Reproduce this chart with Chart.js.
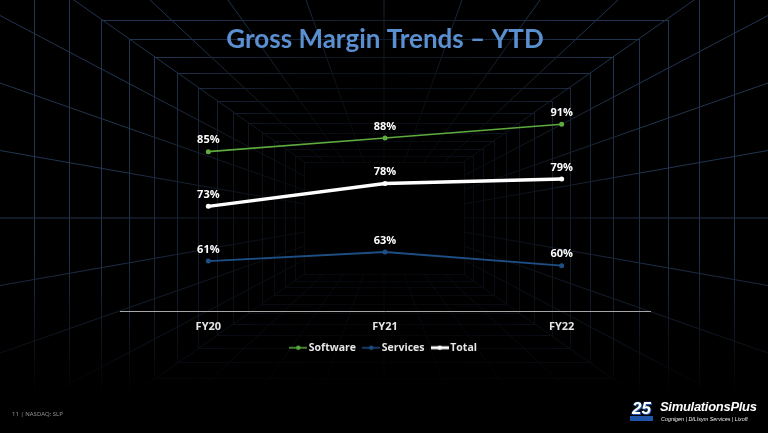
<!DOCTYPE html>
<html>
<head>
<meta charset="utf-8">
<script src="https://cdn.jsdelivr.net/npm/chart.js@4.4.1/dist/chart.umd.min.js"></script>
<style>
  html, body { margin:0; padding:0; background:#000; }
  #wrap { position:relative; width:768px; height:433px; overflow:hidden; background:#000; }
  #c { position:absolute; left:0; top:0; }
  .foot { position:absolute; left:12px; top:410px; font:6px "Open Sans", sans-serif; color:#9a9a9a; }
  .logo { position:absolute; left:628px; top:396px; width:135px; height:32px; }
  .badge { position:absolute; left:0; top:2px; width:27px; height:26px; font:italic 900 17px "Liberation Sans", sans-serif; color:#fff; text-align:center; line-height:22px; text-shadow:0 0 2px #2a5fb0, 1px 1px 0 #1d4fa0; }
  .badge span { position:absolute; left:2px; top:18px; width:23px; height:5px; background:#1e55a8; }
  .brand { position:absolute; left:32px; top:3px; font:italic bold 13px "Liberation Sans", Arial, sans-serif; color:#fff; letter-spacing:-0.3px; }
  .sub { position:absolute; left:33px; top:20px; font:italic 5.4px "Liberation Sans", Arial, sans-serif; color:#e8e8e8; white-space:nowrap; }
</style>
</head>
<body>
<div id="wrap">
  <canvas id="c" width="768" height="433"></canvas>
  <div class="foot">11 | NASDAQ: SLP</div>
  <div class="logo">
    <div class="badge">25<span></span></div>
    <div class="brand">SimulationsPlus</div>
    <div class="sub">Cognigen | DILIsym Services | Lixoft</div>
  </div>
</div>
<script>
// ---- data ----
const categories = ["FY20", "FY21", "FY22"];
const softwareValues = [85, 88, 91];
const servicesValues = [61, 63, 60];
const totalValues = [73, 78, 79];
const seriesNames = ["Software", "Services", "Total"];
const chartTitle = "Gross Margin Trends \u2013 YTD";

// ---- background tunnel grid ----
const gridPlugin = {
  id: 'tunnelGrid',
  beforeDraw(chart) {
    const ctx = chart.ctx;
    const W = chart.width, H = chart.height;
    const vx = 384, vy = 218, k = 0.7;
    ctx.save();
    ctx.fillStyle = '#000';
    ctx.fillRect(0, 0, W, H);
    ctx.strokeStyle = '#22344f';
    ctx.lineWidth = 1;
    const widths = [];
    for (let i = 0, w = 350; i < 15; i++, w *= 0.9) widths.push(w);
    widths.forEach(w => {
      const h = w * k;
      ctx.strokeRect(Math.round(vx - w) + 0.5, Math.round(vy - h) + 0.5, Math.round(2 * w), Math.round(2 * h));
    });
    const wMin = widths[widths.length - 1], hMin = wMin * k;
    const ray = (dx, dy) => {
      const t = Math.min(Math.abs(dx) > 1e-6 ? wMin / Math.abs(dx) : 1e9, Math.abs(dy) > 1e-6 ? hMin / Math.abs(dy) : 1e9);
      ctx.beginPath();
      ctx.moveTo(vx + dx * t, vy + dy * t);
      ctx.lineTo(vx + dx * 20, vy + dy * 20);
      ctx.stroke();
    };
    for (let n = -3; n <= 3; n++) {
      ray(78 * n, -vy);
      ray(78 * n, vy);
    }
    for (let n = -4; n <= 4; n++) {
      ray(-vx, 67.5 * n);
      ray(vx, 67.5 * n);
    }
    const rg = ctx.createRadialGradient(vx, vy, 20, vx, vy, 270);
    rg.addColorStop(0, 'rgba(0,0,0,0.92)');
    rg.addColorStop(0.5, 'rgba(0,0,0,0.65)');
    rg.addColorStop(1, 'rgba(0,0,0,0)');
    ctx.fillStyle = rg;
    ctx.fillRect(0, 0, W, H);
    const lg = ctx.createLinearGradient(0, 250, 0, 395);
    lg.addColorStop(0, 'rgba(0,0,0,0)');
    lg.addColorStop(1, 'rgba(0,0,0,1)');
    ctx.fillStyle = lg;
    ctx.fillRect(0, 250, W, H - 250);
    ctx.restore();
  }
};

// ---- data labels drawn from the scale positions ----
const labelPlugin = {
  id: 'pointLabels',
  afterDatasetsDraw(chart) {
    const ctx = chart.ctx;
    ctx.save();
    ctx.font = 'bold 11px "Open Sans", sans-serif';
    ctx.fillStyle = '#ffffff';
    ctx.textAlign = 'center';
    ctx.textBaseline = 'bottom';
    chart.data.datasets.forEach((ds, i) => {
      const meta = chart.getDatasetMeta(i);
      meta.data.forEach((pt, j) => {
        ctx.fillText(ds.data[j] + '%', pt.x, pt.y - 6);
      });
    });
    ctx.restore();
  }
};

function legendIcon(color, lw) {
  const c = document.createElement('canvas');
  c.width = 18; c.height = 8;
  const x = c.getContext('2d');
  x.strokeStyle = color; x.lineWidth = lw;
  x.beginPath(); x.moveTo(0, 4); x.lineTo(18, 4); x.stroke();
  x.fillStyle = color;
  x.beginPath(); x.arc(9, 4, 2.2, 0, Math.PI * 2); x.fill();
  return c;
}

const colors = ['#5eab3f', '#1d4f85', '#ffffff'];
const widthsL = [1.6, 1.8, 3.5];
const valueSets = [softwareValues, servicesValues, totalValues];

new Chart(document.getElementById('c'), {
  type: 'line',
  data: {
    labels: categories,
    datasets: seriesNames.map((name, i) => ({
      label: name,
      data: valueSets[i],
      borderColor: colors[i],
      backgroundColor: colors[i],
      borderWidth: widthsL[i],
      pointRadius: 2.5,
      pointHoverRadius: 2.5,
      pointBackgroundColor: colors[i],
      pointBorderWidth: 0,
      tension: 0,
      fill: false
    }))
  },
  options: {
    responsive: false,
    animation: false,
    devicePixelRatio: 1,
    layout: { padding: { left: 120, right: 118, top: 24, bottom: 70 } },
    scales: {
      x: {
        offset: true,
        grid: { display: false, drawTicks: false },
        border: { display: true, color: '#a6a6a6', width: 1 },
        ticks: { color: '#e6e6e6', font: { family: 'Open Sans', weight: 'bold', size: 11 }, padding: 9 },
        afterFit(scale) { scale.height = scale.height - 10; }
      },
      y: {
        display: false,
        min: 50,
        max: 100
      }
    },
    plugins: {
      title: {
        display: true,
        text: chartTitle,
        color: '#5a8fd0',
        font: { family: 'Lato', weight: 'bold', size: 26 },
        padding: { top: 0, bottom: 28 }
      },
      legend: {
        display: true,
        position: 'bottom',
        labels: {
          color: '#e6e6e6',
          font: { family: 'Open Sans', weight: 'bold', size: 10.5 },
          usePointStyle: true,
          boxWidth: 18,
          boxHeight: 8,
          padding: 10,
          generateLabels(chart) {
            return chart.data.datasets.map((ds, i) => ({
              text: ds.label,
              pointStyle: legendIcon(colors[i], i === 2 ? 3 : 1.5),
              fillStyle: colors[i],
              strokeStyle: colors[i],
              lineWidth: 0,
              fontColor: '#e6e6e6',
              datasetIndex: i,
              hidden: false
            }));
          }
        }
      },
      tooltip: { enabled: false }
    }
  },
  plugins: [gridPlugin, labelPlugin]
});
</script>
</body>
</html>
